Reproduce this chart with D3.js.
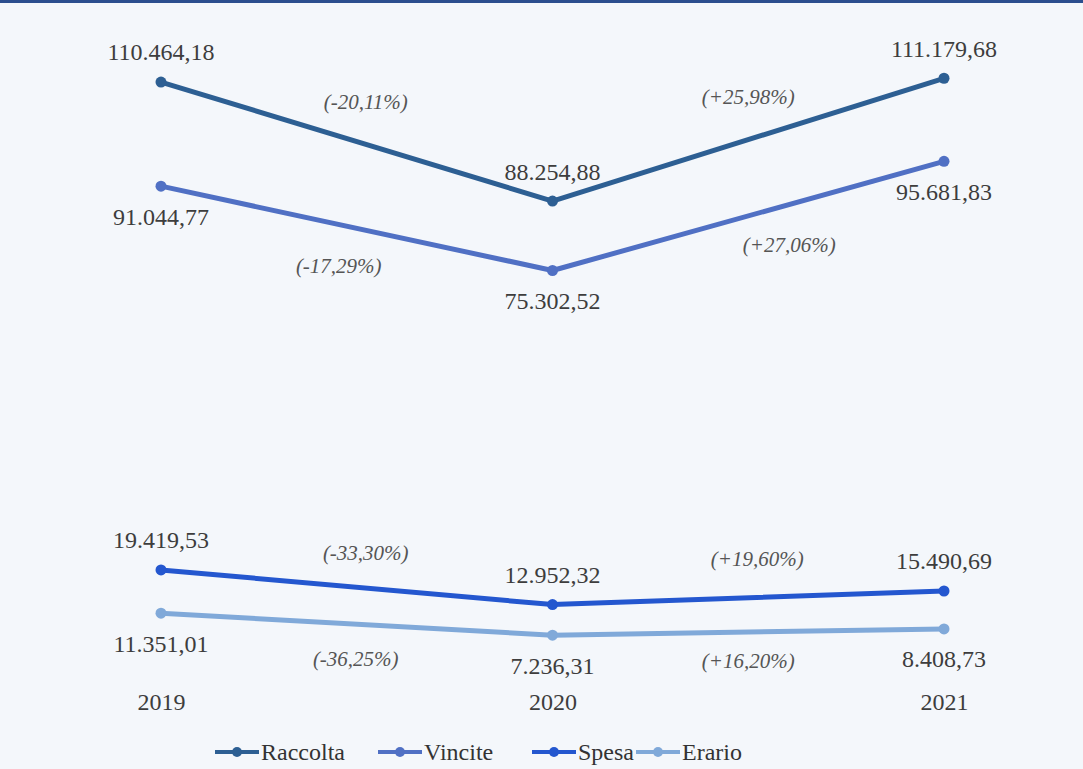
<!DOCTYPE html>
<html><head><meta charset="utf-8">
<script src="https://cdn.jsdelivr.net/npm/d3@7"></script>
<style>
html,body{margin:0;padding:0;background:#f4f7fb;}
svg{display:block;}
svg text{font-family:"Liberation Serif";}
</style></head>
<body>
<svg id="chart" width="1083" height="769"></svg>
<script>
const years = ["2019", "2020", "2021"];
const seriesNames = ["Raccolta", "Vincite", "Spesa", "Erario"];
const raccolta = [110464.18, 88254.88, 111179.68];
const vincite = [91044.77, 75302.52, 95681.83];
const spesa = [19419.53, 12952.32, 15490.69];
const erario = [11351.01, 7236.31, 8408.73];
const raccoltaPct = ["(-20,11%)", "(+25,98%)"];
const vincitePct = ["(-17,29%)", "(+27,06%)"];
const spesaPct = ["(-33,30%)", "(+19,60%)"];
const erarioPct = ["(-36,25%)", "(+16,20%)"];

// styling / layout
const colors = ["#2d5f93", "#5070c4", "#2457cf", "#80a9d9"];
const labelSide = [-1, 1, -1, 1];           // -1 above, +1 below
const pctLayout = [
  [{dx: 9, dy: -40}, {dx: 0, dy: -43}],
  [{dx: -18, dy: 37}, {dx: 41, dy: 29}],
  [{dx: 9, dy: -35}, {dx: 9, dy: -39}],
  [{dx: -1, dy: 34}, {dx: 0, dy: 29}]
];

const W = 1083, H = 769;
const FONT = '"Liberation Serif"';
const svg = d3.select("#chart");
svg.append("rect").attr("width", W).attr("height", H).attr("fill", "#f4f7fb");
svg.append("rect").attr("x", 0).attr("y", 0).attr("width", W).attr("height", 3).attr("fill", "#2b4e8e");

const x = d3.scalePoint().domain(years).range([161, 944]);
const y = d3.scaleLinear().domain([0, 120000]).range([674, 31]);

const data = [raccolta, vincite, spesa, erario];
const pcts = [raccoltaPct, vincitePct, spesaPct, erarioPct];
const fmt = v => {
  const s = d3.format(",.2f")(v);
  return s.replace(/,/g, "#").replace(/\./g, ",").replace(/#/g, ".");
};

const line = d3.line().x((d, i) => x(years[i])).y(d => y(d));

data.forEach((vals, si) => {
  const g = svg.append("g");
  g.append("path").attr("d", line(vals)).attr("fill", "none")
    .attr("stroke", colors[si]).attr("stroke-width", 5).attr("stroke-linejoin", "round");
  g.selectAll("circle").data(vals).join("circle")
    .attr("cx", (d, i) => x(years[i])).attr("cy", d => y(d)).attr("r", 5.5)
    .attr("fill", colors[si]);
  g.selectAll("text.val").data(vals).join("text").attr("class", "val")
    .attr("x", (d, i) => x(years[i]))
    .attr("y", d => y(d) + labelSide[si] * 30)
    .attr("dy", "0.35em")
    .attr("text-anchor", "middle")
    .style("font-family", FONT).style("font-size", "24px").attr("fill", "#3d3d3d")
    .text(d => fmt(d));
  pcts[si].forEach((t, k) => {
    const mx = (x(years[k]) + x(years[k + 1])) / 2;
    const my = (y(vals[k]) + y(vals[k + 1])) / 2;
    g.append("text").attr("x", mx + pctLayout[si][k].dx).attr("y", my + pctLayout[si][k].dy)
      .attr("dy", "0.35em").attr("text-anchor", "middle")
      .style("font-family", FONT).style("font-style", "italic")
      .style("font-size", "21px").attr("fill", "#555").text(t);
  });
});

// x axis labels
const xAxis = d3.axisBottom(x).tickSize(0).tickPadding(0);
const ax = svg.append("g").attr("transform", "translate(0,693)").call(xAxis);
ax.select(".domain").remove();
ax.selectAll("text").style("font-family", FONT).style("font-size", "24px").attr("fill", "#3d3d3d");

// legend
const legendX = [215, 378, 532, 636];
const lg = svg.append("g");
seriesNames.forEach((n, i) => {
  const gi = lg.append("g").attr("transform", `translate(${legendX[i]},752)`);
  gi.append("line").attr("x1", 0).attr("x2", 44).attr("y1", 0).attr("y2", 0)
    .attr("stroke", colors[i]).attr("stroke-width", 4);
  gi.append("circle").attr("cx", 22).attr("cy", 0).attr("r", 5).attr("fill", colors[i]);
  gi.append("text").attr("x", 46).attr("y", 0).attr("dy", "0.35em")
    .style("font-family", FONT).style("font-size", "24px").attr("fill", "#333").text(n);
});
</script>
</body></html>
